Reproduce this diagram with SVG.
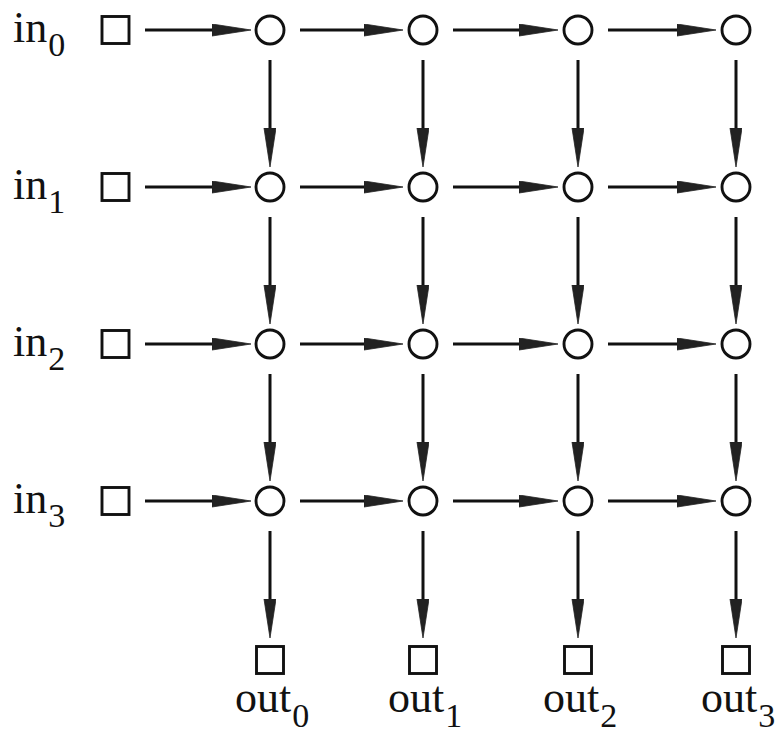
<svg xmlns="http://www.w3.org/2000/svg" width="779" height="733" viewBox="0 0 779 733">
  <defs>
    <style>
      .port { fill: #fff; stroke: #111; stroke-width: 2.9; }
      .sw { fill: #fff; stroke: #111; stroke-width: 2.9; }
      .edge { stroke: #111; stroke-width: 3; fill: none; marker-end: url(#head); }
      .lbl { font-family: "Liberation Serif", "Times New Roman", serif; font-size: 44px; fill: #111; }
      .sub { font-size: 34px; }
    </style>
    <!-- long, narrow filled arrowhead; tip lands 20px past the line end -->
    <marker id="head" markerUnits="userSpaceOnUse" markerWidth="42" markerHeight="14" refX="18" refY="6" orient="auto">
      <path d="M0,0 L39,6 L0,12 Z" fill="#222" stroke="#222" stroke-width="0.8" stroke-linejoin="miter"/>
    </marker>
  </defs>

  <rect width="779" height="733" fill="#fff"/>

  <!-- connectors -->
  <g id="connectors">
    <!-- inputs into first column -->
    <line class="edge" x1="145" y1="30" x2="230" y2="30"/>
    <line class="edge" x1="145" y1="187" x2="230" y2="187"/>
    <line class="edge" x1="145" y1="344" x2="230" y2="344"/>
    <line class="edge" x1="145" y1="501" x2="230" y2="501"/>
    <!-- horizontal links, row 0..3 -->
    <line class="edge" x1="300" y1="30" x2="382" y2="30"/>
    <line class="edge" x1="453" y1="30" x2="537" y2="30"/>
    <line class="edge" x1="608" y1="30" x2="695" y2="30"/>
    <line class="edge" x1="300" y1="187" x2="382" y2="187"/>
    <line class="edge" x1="453" y1="187" x2="537" y2="187"/>
    <line class="edge" x1="608" y1="187" x2="695" y2="187"/>
    <line class="edge" x1="300" y1="344" x2="382" y2="344"/>
    <line class="edge" x1="453" y1="344" x2="537" y2="344"/>
    <line class="edge" x1="608" y1="344" x2="695" y2="344"/>
    <line class="edge" x1="300" y1="501" x2="382" y2="501"/>
    <line class="edge" x1="453" y1="501" x2="537" y2="501"/>
    <line class="edge" x1="608" y1="501" x2="695" y2="501"/>
    <!-- vertical links, column 0..3 -->
    <line class="edge" x1="270" y1="60" x2="270" y2="146"/>
    <line class="edge" x1="270" y1="217" x2="270" y2="303"/>
    <line class="edge" x1="270" y1="374" x2="270" y2="460"/>
    <line class="edge" x1="270" y1="531" x2="270" y2="617"/>
    <line class="edge" x1="423" y1="60" x2="423" y2="146"/>
    <line class="edge" x1="423" y1="217" x2="423" y2="303"/>
    <line class="edge" x1="423" y1="374" x2="423" y2="460"/>
    <line class="edge" x1="423" y1="531" x2="423" y2="617"/>
    <line class="edge" x1="578" y1="60" x2="578" y2="146"/>
    <line class="edge" x1="578" y1="217" x2="578" y2="303"/>
    <line class="edge" x1="578" y1="374" x2="578" y2="460"/>
    <line class="edge" x1="578" y1="531" x2="578" y2="617"/>
    <line class="edge" x1="736" y1="60" x2="736" y2="146"/>
    <line class="edge" x1="736" y1="217" x2="736" y2="303"/>
    <line class="edge" x1="736" y1="374" x2="736" y2="460"/>
    <line class="edge" x1="736" y1="531" x2="736" y2="617"/>
  </g>

  <!-- input ports -->
  <g id="in0"><rect class="port" x="102" y="16.5" width="27" height="27"/><text class="lbl" x="13" y="42">in<tspan class="sub" dx="1" dy="14">0</tspan></text></g>
  <g id="in1"><rect class="port" x="102" y="173.5" width="27" height="27"/><text class="lbl" x="13" y="199">in<tspan class="sub" dx="1" dy="14">1</tspan></text></g>
  <g id="in2"><rect class="port" x="102" y="330.5" width="27" height="27"/><text class="lbl" x="13" y="356">in<tspan class="sub" dx="1" dy="14">2</tspan></text></g>
  <g id="in3"><rect class="port" x="102" y="487.5" width="27" height="27"/><text class="lbl" x="13" y="513">in<tspan class="sub" dx="1" dy="14">3</tspan></text></g>

  <!-- switch grid -->
  <g id="s00"><circle class="sw" cx="270" cy="30" r="14"/></g>
  <g id="s01"><circle class="sw" cx="423" cy="30" r="14"/></g>
  <g id="s02"><circle class="sw" cx="578" cy="30" r="14"/></g>
  <g id="s03"><circle class="sw" cx="736" cy="30" r="14"/></g>
  <g id="s10"><circle class="sw" cx="270" cy="187" r="14"/></g>
  <g id="s11"><circle class="sw" cx="423" cy="187" r="14"/></g>
  <g id="s12"><circle class="sw" cx="578" cy="187" r="14"/></g>
  <g id="s13"><circle class="sw" cx="736" cy="187" r="14"/></g>
  <g id="s20"><circle class="sw" cx="270" cy="344" r="14"/></g>
  <g id="s21"><circle class="sw" cx="423" cy="344" r="14"/></g>
  <g id="s22"><circle class="sw" cx="578" cy="344" r="14"/></g>
  <g id="s23"><circle class="sw" cx="736" cy="344" r="14"/></g>
  <g id="s30"><circle class="sw" cx="270" cy="501" r="14"/></g>
  <g id="s31"><circle class="sw" cx="423" cy="501" r="14"/></g>
  <g id="s32"><circle class="sw" cx="578" cy="501" r="14"/></g>
  <g id="s33"><circle class="sw" cx="736" cy="501" r="14"/></g>

  <!-- output ports -->
  <g id="out0"><rect class="port" x="256.5" y="646.5" width="27" height="27"/><text class="lbl" x="235" y="712">out<tspan class="sub" dx="1" dy="15">0</tspan></text></g>
  <g id="out1"><rect class="port" x="409.5" y="646.5" width="27" height="27"/><text class="lbl" x="388" y="712">out<tspan class="sub" dx="1" dy="15">1</tspan></text></g>
  <g id="out2"><rect class="port" x="564.5" y="646.5" width="27" height="27"/><text class="lbl" x="543" y="712">out<tspan class="sub" dx="1" dy="15">2</tspan></text></g>
  <g id="out3"><rect class="port" x="722.5" y="646.5" width="27" height="27"/><text class="lbl" x="701" y="712">out<tspan class="sub" dx="1" dy="15">3</tspan></text></g>
</svg>
